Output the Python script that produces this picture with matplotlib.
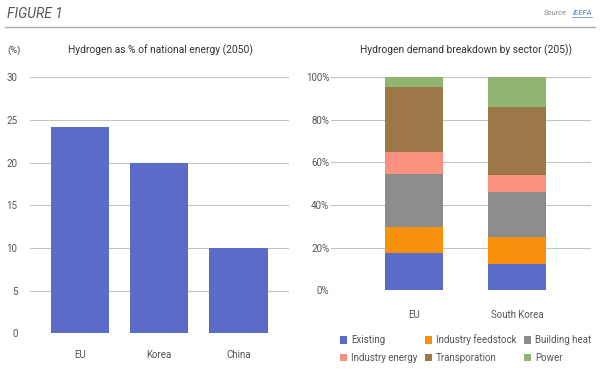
import matplotlib
matplotlib.use("Agg")
import matplotlib.pyplot as plt
from matplotlib.patches import Patch
import numpy as np

plt.rcParams['font.family'] = ['Roboto', 'DejaVu Sans']

# Left chart data
countries = ["EU", "Korea", "China"]
share_2050 = [24.2, 20.0, 10.0]
left_yticks = [0, 5, 10, 15, 20, 25, 30]

# Right chart data
regions = ["EU", "South Korea"]
sectors = ["Existing", "Industry feedstock", "Building heat",
           "Industry energy", "Transporation", "Power"]
existing = [17.5, 12.5]
industry_feedstock = [12.0, 12.5]
building_heat = [25.0, 21.0]
industry_energy = [10.5, 8.0]
transportation = [30.5, 32.0]
power = [4.5, 14.0]
right_yticks = [0, 20, 40, 60, 80, 100]
right_yticklabels = ["0%", "20%", "40%", "60%", "80%", "100%"]

colors = ["#5B6BC8", "#F7900A", "#8C8C8C", "#F99181", "#9C7849", "#8FB570"]
bar_color = "#5B6BC8"
grid_color = "#C4C4C4"
text_color = "#555555"

W, H = 600, 373
fig = plt.figure(figsize=(W / 100, H / 100), dpi=100)

# Header
fig.text(7 / W, 1 - 14 / H, "FIGURE 1", fontsize=10, style="italic",
         color="#555555", va="center", ha="left")
fig.text(592 / W, 1 - 13 / H, "IEEFA", fontsize=5.5, style="italic",
         color="#5577CC", va="center", ha="right")
fig.text(567 / W, 1 - 13 / H, "Source", fontsize=5.5, style="italic",
         color="#888888", va="center", ha="right")
fig.add_artist(plt.Line2D([572 / W, 592 / W], [1 - 16.5 / H, 1 - 16.5 / H],
                          color="#5577CC", lw=0.5))
fig.add_artist(plt.Line2D([5 / W, 595 / W], [1 - 26.5 / H, 1 - 26.5 / H],
                          color="#AAAAAA", lw=1.0))

fig.text(7 / W, 1 - 50 / H, "(%)", fontsize=6.8, color="#444444",
         va="center", ha="left")
fig.text(68 / W, 1 - 50 / H, "Hydrogen as % of national energy (2050)",
         fontsize=7.4, color="#333333", va="center", ha="left")
fig.text(360 / W, 1 - 50 / H, "Hydrogen demand breakdown by sector (205))",
         fontsize=7.4, color="#333333", va="center", ha="left")

# Left axes
axL = fig.add_axes([30 / W, 1 - 333.3 / H, 259 / W, 256 / H])
x = np.arange(len(countries))
axL.bar(x, share_2050, width=0.74, color=bar_color, zorder=3)
axL.set_xlim(-0.63, 2.64)
axL.set_ylim(0, 30)
axL.set_yticks(left_yticks)
axL.set_xticks(x)
axL.set_xticklabels(countries)
axL.yaxis.grid(True, color=grid_color, lw=0.8, zorder=0)
for s in axL.spines.values():
    s.set_visible(False)
axL.tick_params(axis="both", length=0, labelsize=7, colors=text_color)
axL.tick_params(axis="y", pad=9)
axL.tick_params(axis="x", pad=12)

# Right axes
axR = fig.add_axes([330.7 / W, 1 - 290.3 / H, 260.3 / W, 213 / H])
xr = np.arange(len(regions))
series = [existing, industry_feedstock, building_heat,
          industry_energy, transportation, power]
bottom = np.zeros(len(regions))
handles = []
for name, vals, c in zip(sectors, series, colors):
    axR.bar(xr, vals, bottom=bottom, width=0.57, color=c, zorder=3,
            label=name)
    bottom += np.array(vals)
    handles.append(Patch(facecolor=c, label=name))
axR.set_xlim(-0.81, 1.72)
axR.set_ylim(0, 100)
axR.set_yticks(right_yticks)
axR.set_yticklabels(right_yticklabels)
axR.set_xticks(xr)
axR.set_xticklabels(regions)
axR.yaxis.grid(True, color=grid_color, lw=0.8, zorder=0)
for s in axR.spines.values():
    s.set_visible(False)
axR.tick_params(axis="both", length=0, labelsize=7, colors=text_color)
axR.tick_params(axis="y", pad=1)
axR.tick_params(axis="x", pad=14)

# Legend (row-major order -> column-major for matplotlib)
order = [0, 3, 1, 4, 2, 5]
leg = fig.legend([handles[i] for i in order], [sectors[i] for i in order],
                 ncol=3, loc="upper left",
                 bbox_to_anchor=(340 / W, 1 - 334.5 / H),
                 frameon=False, fontsize=7.0, handlelength=0.75,
                 handleheight=0.75, handletextpad=0.4, columnspacing=0.75,
                 labelspacing=0.8, borderpad=0, borderaxespad=0)
for t in leg.get_texts():
    t.set_color(text_color)

fig.savefig("out.png", dpi=100)
